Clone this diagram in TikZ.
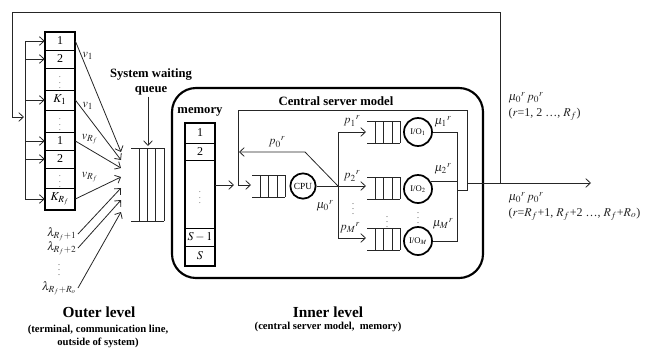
\documentclass[tikz,border=0pt]{standalone}
\usepackage{mathptmx}
\usepackage{fontspec}
\setmainfont{Liberation Serif}
\usetikzlibrary{arrows.meta}
\newcommand\qdraw[4]{% left x, centre y, half height, list of verticals
  \draw[thinl] ({#1},{#2-#3}) -- ++(33,0) ({#1},{#2+#3}) -- ++(33,0);
  \foreach \dx in {#4} \draw[thinl] ({#1+\dx},{#2-#3}) -- ({#1+\dx},{#2+#3});}
\begin{document}
\begin{tikzpicture}[x=0.75pt,y=-0.75pt,
  thinl/.style={line width=0.6pt, draw=black!85},
  arr/.style={thinl, -{Straight Barb[length=3.5pt,width=6.5pt]}},
  thickbox/.style={line width=1.5pt},
  cellA/.style={draw, line width=0.5pt, minimum width=22.5pt, inner sep=0pt, font=\fontsize{9}{10}\selectfont},
  srv/.style={circle, draw, line width=1.3pt, minimum size=21pt, inner sep=0pt, font=\fontsize{6.5}{7}\selectfont},
  lab/.style={font=\fontsize{9}{10}\selectfont, inner sep=1pt, text=black!85},
  dotsn/.style={font=\fontsize{6}{6}\selectfont, inner sep=0pt, text=black!85},
  btitle/.style={font=\fontsize{9.5}{11}\selectfont\bfseries, inner sep=1pt, align=center},
  ]
\useasboundingbox (0,0) rectangle (650,347);

% ---------- outer stack ----------
\node[cellA, minimum height=13.5pt] (c1) at (60,41) {1};
\node[cellA, minimum height=13.5pt] (c2) at (60,59) {2};
\node[cellA, minimum height=16.5pt] (c3) at (60,79) {\tiny$\vdots$};
\node[cellA, minimum height=15pt]   (c4) at (60,100) {$K_1$};
\node[cellA, minimum height=16.5pt] (c5) at (60,121) {\tiny$\vdots$};
\node[cellA, minimum height=13.5pt] (c6) at (60,141) {1};
\node[cellA, minimum height=13.5pt] (c7) at (60,159) {2};
\node[cellA, minimum height=15pt]   (c8) at (60,178) {\tiny$\vdots$};
\node[cellA, minimum height=16.5pt] (c9) at (60,199) {$K_{R_f}$};
\draw[thickbox] (c1.north west) rectangle (c9.south east);

% left bracket and input arrows
\coordinate (b1) at (25,41);
\coordinate (b9) at (25,199);
\draw[thinl] (b1) -- (b9);
\foreach \c in {c1,c2,c4,c6,c7,c9} \draw[arr] (b1 |- \c.west) -- (\c.west);

% ---------- waiting queue ----------
\qdraw{131}{184.5}{36.5}{8,16,24,33}
\node[btitle] (swq) at (151,82) {System waiting\\queue};
\coordinate (wqt) at (148,146);
\draw[arr] (swq.south -| wqt) -- (wqt);

\coordinate (q1) at (121,152);
\coordinate (q2) at (121,160);
\coordinate (q3) at (121,168);
\coordinate (q4) at (121,177);
\coordinate (q5) at (121,188);
\coordinate (q6) at (121,200);
\coordinate (q7) at (121,212);
\draw[arr] (c1.east) -- (q1);
\draw[arr] (c4.east) -- (q2);
\draw[arr] (c6.east) -- (q3);
\draw[arr] (c9.east) -- (q4);
\node[lab] (v1) at (88,56) {$v_1$};
\node[lab] (v2) at (88,106) {$v_1$};
\node[lab] (v3) at (90,139) {$v_{R_f}$};
\node[lab] (v4) at (90,177) {$v_{R_f}$};

\node[lab, anchor=east] (l1) at (78,234) {$\lambda_{R_f+1}$};
\node[lab, anchor=east] (l2) at (78,248) {$\lambda_{R_f+2}$};
\node[dotsn] (l3) at (59,266) {$\vdots$};
\node[lab, anchor=east] (l4) at (78,288) {$\lambda_{R_f+R_o}$};
\draw[arr] (l1.east) -- (q5);
\draw[arr] (l2.east) -- (q6);
\draw[arr] (l4.east) -- (q7);

% ---------- inner level box ----------
\draw[line width=1.6pt, rounded corners=18pt] (172,88) rectangle (483,278);
\node[btitle] (csm) at (336,101) {Central server model};
\node[btitle] (memlab) at (200,112) {memory};

\node[cellA, minimum height=15pt]    (m1) at (200,133) {1};
\node[cellA, minimum height=12.75pt] (m2) at (200,151.5) {2};
\node[cellA, minimum height=51pt]    (m3) at (200,194) {\tiny$\vdots$};
\node[cellA, minimum height=13.5pt]  (m4) at (200,237) {$S-1$};
\node[cellA, minimum height=15pt]    (m5) at (200,256) {$S$};
\draw[thickbox] (m1.north west) rectangle (m5.south east);

\coordinate (memo) at (215,185);
\coordinate (memt) at (234,185);
\draw[arr] (memo) -- (memt);

% inner loop (central server model frame)
\coordinate (fl) at (238,185);
\coordinate (flt) at (238,110);
\coordinate (frt) at (467,110);
\coordinate (frb) at (467,190);
\coordinate (jo) at (457,190);
\coordinate (cq) at (251,185);
\draw[thinl] (jo) -- (frb) -- (frt) -- (flt) -- (fl);
\draw[arr] (fl) -- (cq);

% CPU
\qdraw{252}{186}{11}{8,16,25,33}
\node[srv, minimum size=19pt, font=\fontsize{7}{8}\selectfont] (cpu) at (303,186) {CPU};
\coordinate (split) at (338,186);
\draw[thinl] (cpu.east) -- (split);
\node[lab] (mu0) at (325,206) {$\mu_0{}^{r}$};

% p0 return
\coordinate (pk) at (305,152);
\coordinate (pt) at (239,152);
\draw[arr] (split) -- (pk) -- (pt);
\node[lab] (p0) at (277,142) {$p_0{}^{r}$};

% branches
\coordinate (s1) at (338,132);
\coordinate (s3) at (338,238);
\coordinate (t1) at (366,132);
\coordinate (t2) at (366,186);
\coordinate (t3) at (366,238);
\draw[thinl] (s1) -- (s3);
\draw[arr] (s1) -- (t1);
\draw[arr] (split) -- (t2);
\draw[arr] (s3) -- (t3);
\node[lab] (p1) at (352,121) {$p_1{}^{r}$};
\node[lab] (p2) at (352,176) {$p_2{}^{r}$};
\node[lab] (pM) at (350,228) {$p_M{}^{r}$};
\node[dotsn] (d1) at (353,205) {$\vdots$};

% I/O queues and servers
\qdraw{367}{132}{11}{8,16,25,33}
\qdraw{367}{188}{11}{8,16,25,33}
\qdraw{367}{239}{11}{8,16,25,33}
\node[dotsn] (d2) at (387,218) {$\vdots$};
\node[srv] (io1) at (418,132) {I/O$_1$};
\node[srv] (io2) at (418,189) {I/O$_2$};
\node[srv] (ioM) at (418,241) {I/O$_M$};
\node[dotsn] (d3) at (418,214) {$\vdots$};
\node[lab] (mu1) at (443,122) {$\mu_1{}^{r}$};
\node[lab] (mu2) at (443,169) {$\mu_2{}^{r}$};
\node[lab] (muM) at (443,224) {$\mu_M{}^{r}$};

\coordinate (o1) at (457,132);
\coordinate (o2) at (457,182);
\coordinate (o3) at (457,241);
\draw[thinl] (io1.east) -- (o1) -- (o3) -- (ioM.east);
\draw[thinl] (io2.30) -- (io2.30 -| o2);

% output
\coordinate (fo) at (467,183);
\coordinate (ob) at (483,183);
\coordinate (jA) at (500,183);
\coordinate (outE) at (591,183);
\draw[thinl] (fo) -- (ob);
\draw[arr] (ob) -- (outE);

% feedback
\coordinate (fbC) at (12,12);
\coordinate (fbE) at (24,117);
\draw[arr] (jA) |- (fbC) |- (fbE);

% right labels
\node[lab, anchor=west] (r1) at (507,98) {$\mu_0{}^{r}\,p_0{}^{r}$};
\node[lab, anchor=west] (r2) at (507,114) {($r$=1, 2 \dots, $R_f$)};
\node[lab, anchor=west] (r3) at (507,198) {$\mu_0{}^{r}\,p_0{}^{r}$};
\node[lab, anchor=west] (r4) at (507,214) {($r$=$R_f$+1, $R_f$+2 \dots, $R_f$+$R_o$)};

% bottom titles
\node[font=\fontsize{11.5}{13}\selectfont\bfseries, inner sep=1pt] (ol) at (99,312) {Outer level};
\node[font=\fontsize{8}{9.8}\selectfont\bfseries, inner sep=1pt, align=center] (ols) at (98,336) {(terminal, communication line,\\outside of system)};
\node[font=\fontsize{11.5}{13}\selectfont\bfseries, inner sep=1pt] (il) at (328,312) {Inner level};
\node[font=\fontsize{8}{9.8}\selectfont\bfseries, inner sep=1pt] (ils) at (328,327) {(central server model,\ \ memory)};
\end{tikzpicture}
\end{document}
